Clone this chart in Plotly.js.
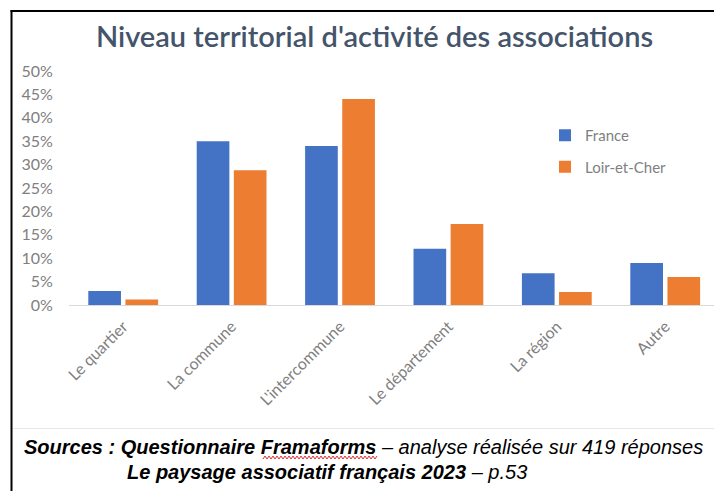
<!DOCTYPE html>
<html>
<head>
<meta charset="utf-8">
<script src="https://cdn.plot.ly/plotly-3.0.1.min.js"></script>
<style>
html,body{margin:0;padding:0;background:#fff;}
#chart{width:714px;height:491px;}
</style>
</head>
<body>
<div id="chart"></div>
<script>
const categories = ["Le quartier", "La commune", "L'intercommune", "Le département", "La région", "Autre"];
const franceValues = [3.0, 35.0, 34.0, 12.0, 6.8, 9.0];
const loirEtCherValues = [1.2, 28.8, 44.0, 17.3, 2.8, 6.0];
const yTickValues = [0, 5, 10, 15, 20, 25, 30, 35, 40, 45, 50];
const yTickLabels = ["0%", "5%", "10%", "15%", "20%", "25%", "30%", "35%", "40%", "45%", "50%"];

const W = 714, H = 491;
const plotL = 69, plotT = 71, plotB = 305;
const plotW = W - plotL, plotH = plotB - plotT;
const px = x => (x - plotL) / plotW;
const py = y => (plotB - y) / plotH;

const traces = [
  {
    type: "bar", name: "France", x: categories, y: franceValues,
    marker: {color: "#4472C4"}, legendgroup: "a", hoverinfo: "x+y"
  },
  {
    type: "bar", name: "Loir-et-Cher", x: categories, y: loirEtCherValues,
    marker: {color: "#ED7D31"}, legendgroup: "b", hoverinfo: "x+y"
  }
];

// red spell-check squiggle under "Framaforms" (decoration)
let squiggle = "";
{
  const x0 = 263, x1 = 377, yTop = 456, yBot = 459, step = 2;
  let up = false;
  for (let x = x0; x <= x1; x += step) {
    const y = up ? yTop : yBot;
    squiggle += (x === x0 ? "M" : "L") + px(x).toFixed(5) + "," + py(y).toFixed(5);
    up = !up;
  }
}

const srcFont = "'Liberation Sans', Arial, sans-serif";

const layout = {
  width: W, height: H,
  margin: {l: plotL, r: 0, t: plotT, b: H - plotB, pad: 0},
  paper_bgcolor: "#ffffff", plot_bgcolor: "#ffffff",
  font: {family: "Lato, 'Open Sans', sans-serif", color: "#7f7f7f"},
  title: {
    text: "Niveau territorial d'activité des associations",
    font: {family: "Lato, sans-serif", size: 29, color: "#44546A", weight: 600},
    x: 374.5 / W, xanchor: "center", xref: "container",
    y: 1 - 37 / H, yanchor: "middle", yref: "container"
  },
  barmode: "group", bargap: 0.315, bargroupgap: 0.12,
  xaxis: {
    type: "category", range: [-0.5, 5.45],
    showgrid: false, zeroline: false,
    showline: true, linecolor: "#d9d9d9", linewidth: 1,
    ticks: "outside", ticklen: 5, tickcolor: "rgba(0,0,0,0)",
    tickangle: -45, tickfont: {size: 16, color: "#7f7f7f"},
    fixedrange: true
  },
  yaxis: {
    range: [0, 50], tickvals: yTickValues, ticktext: yTickLabels,
    showgrid: false, zeroline: false, showline: false,
    ticks: "outside", ticklen: 12, tickcolor: "rgba(0,0,0,0)",
    tickfont: {size: 16, color: "#7f7f7f"},
    fixedrange: true
  },
  legend: {
    x: px(545), xanchor: "left", y: py(119), yanchor: "top",
    font: {size: 15, color: "#7f7f7f"},
    bgcolor: "rgba(0,0,0,0)", tracegroupgap: 9, traceorder: "grouped"
  },
  showlegend: true,
  shapes: [
    {type: "line", xref: "paper", yref: "paper", x0: px(11.5), x1: px(11.5), y0: py(10), y1: py(491), line: {color: "#000000", width: 2}},
    {type: "line", xref: "paper", yref: "paper", x0: px(10.5), x1: px(714), y0: py(11), y1: py(11), line: {color: "#000000", width: 2}},
    {type: "line", xref: "paper", yref: "paper", x0: px(13), x1: px(714), y0: py(428.5), y1: py(428.5), line: {color: "#e6e6ee", width: 1}},
    {type: "path", xref: "paper", yref: "paper", path: squiggle, line: {color: "#e03030", width: 1}}
  ],
  annotations: [
    {
      xref: "paper", yref: "paper", x: px(22), y: py(447), xanchor: "left", yanchor: "middle", showarrow: false,
      text: "<b><i>Sources : Questionnaire Framaforms</i></b><i> – analyse réalisée sur 419 réponses</i>",
      font: {family: srcFont, size: 20, color: "#000000"}
    },
    {
      xref: "paper", yref: "paper", x: px(125), y: py(472), xanchor: "left", yanchor: "middle", showarrow: false,
      text: "<b><i>Le paysage associatif français 2023</i></b><i> – p.53</i>",
      font: {family: srcFont, size: 20, color: "#000000"}
    }
  ]
};

Plotly.newPlot("chart", traces, layout, {displayModeBar: false, staticPlot: true});
</script>
</body>
</html>
